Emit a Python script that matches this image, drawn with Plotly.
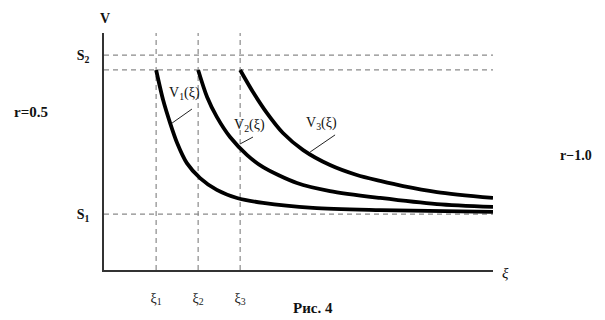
import plotly.graph_objects as go

# --- data ---
xi_ticks = [1.34, 2.42, 3.50]
xi_labels = ["ξ<sub>1</sub>", "ξ<sub>2</sub>", "ξ<sub>3</sub>"]
S1 = 2.36
S2 = 9.07
V_start = 8.44
s_labels = ["S<sub>1</sub>", "S<sub>2</sub>"]

v1_x = [1.34, 1.52, 1.70, 1.88, 2.13, 2.47, 2.90, 3.42, 4.09, 5.37, 7.10, 10.0]
v1_y = [8.44, 7.17, 6.20, 5.36, 4.51, 3.88, 3.38, 3.04, 2.83, 2.62, 2.53, 2.45]
v2_x = [2.42, 2.65, 2.90, 3.24, 3.68, 4.09, 4.96, 5.81, 7.10, 8.56, 10.0]
v2_y = [8.44, 7.30, 6.46, 5.61, 4.85, 4.34, 3.67, 3.33, 3.04, 2.78, 2.66]
v3_x = [3.50, 3.83, 4.19, 4.60, 5.12, 5.81, 6.50, 7.10, 7.69, 8.56, 10.0]
v3_y = [8.44, 7.51, 6.62, 5.78, 5.06, 4.43, 4.01, 3.76, 3.54, 3.29, 3.04]

curve_labels = ["V<sub>1</sub>(ξ)", "V<sub>2</sub>(ξ)", "V<sub>3</sub>(ξ)"]
label_pos = [(2.06, 7.45), (3.73, 6.08), (5.60, 6.20)]
leaders = [((2.26, 6.79), (1.75, 6.20)), ((3.83, 5.61), (3.50, 5.32)), ((5.94, 5.70), (5.30, 4.98))]

X_MAX, Y_MAX = 10.0, 10.0

SERIF = "Liberation Serif, Times New Roman, serif"

fig = go.Figure()
for xs, ys in [(v1_x, v1_y), (v2_x, v2_y), (v3_x, v3_y)]:
    fig.add_trace(go.Scatter(x=xs, y=ys, mode="lines",
                             line=dict(color="black", width=3.8, shape="spline", smoothing=0.8),
                             showlegend=False, hoverinfo="skip"))

dash_style = dict(color="#8a8a8a", width=1.2, dash="5px,4px")
shapes = []
for xv in xi_ticks:
    shapes.append(dict(type="line", xref="x", yref="y", x0=xv, x1=xv, y0=0, y1=Y_MAX, line=dash_style, layer="below"))
for yv in [S1, S2, V_start]:
    shapes.append(dict(type="line", xref="x", yref="y", x0=0, x1=X_MAX, y0=yv, y1=yv, line=dash_style, layer="below"))
for (a, b) in leaders:
    shapes.append(dict(type="line", xref="x", yref="y", x0=a[0], y0=a[1], x1=b[0], y1=b[1],
                       line=dict(color="#222", width=1)))

annotations = []
for txt, (lx, ly) in zip(curve_labels, label_pos):
    annotations.append(dict(x=lx, y=ly, xref="x", yref="y", text=txt, showarrow=False,
                            xanchor="center", yanchor="middle",
                            font=dict(family=SERIF, size=14, color="#111")))
extra = [
    (-0.188, 0.667, "<b>r=0.5</b>", 15),
    (1.213, 0.485, "<b>r−1.0</b>", 14),
    (0.537, -0.160, "<b>Рис. 4</b>", 15),
    (0.002, 1.063, "<b>V</b>", 14),
    (1.031, -0.013, "<i>ξ</i>", 15),
]
for ex, ey, txt, sz in extra:
    annotations.append(dict(x=ex, y=ey, xref="paper", yref="paper", text=txt, showarrow=False,
                            xanchor="center", yanchor="middle",
                            font=dict(family=SERIF, size=sz, color="#111")))

fig.update_layout(
    width=605, height=320,
    margin=dict(l=104, r=112, t=33, b=50),
    paper_bgcolor="white", plot_bgcolor="white",
    shapes=shapes, annotations=annotations,
    xaxis=dict(range=[0, X_MAX], showgrid=False, zeroline=False, showline=True,
               linecolor="#333", linewidth=1.5, tickvals=xi_ticks, ticktext=xi_labels,
               ticks="", ticklabelstandoff=14,
               tickfont=dict(family=SERIF, size=14, color="#222")),
    yaxis=dict(range=[0, Y_MAX], showgrid=False, zeroline=False, showline=True,
               linecolor="#333", linewidth=1.5, tickvals=[S1, S2], ticktext=["<b>" + s + "</b>" for s in s_labels],
               ticks="", ticklabelstandoff=10,
               tickfont=dict(family=SERIF, size=14, color="#111")),
)

fig.write_html("out.html", config={"displayModeBar": False},
               post_script="document.body.style.margin='0';document.body.style.overflow='hidden';")
